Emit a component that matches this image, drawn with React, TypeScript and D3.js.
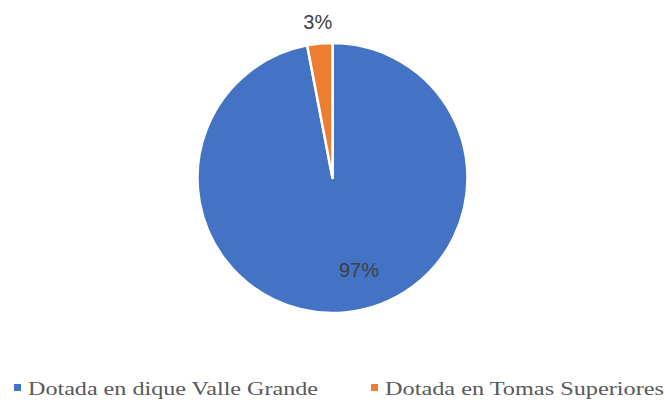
import React from "react";
import * as d3 from "d3";

const categories = ["Dotada en dique Valle Grande", "Dotada en Tomas Superiores"];
const values = [97, 3];
const labels = ["97%", "3%"];
const colors = ["#4472C4", "#ED7D31"];

const W = 665;
const H = 403;
const cx = 332.5;
const cy = 178;
const R = 135;

export default function App() {
  const pie = d3.pie<number>().sort(null).startAngle(0).endAngle(2 * Math.PI);
  const arcs = pie(values);
  const arc = d3.arc<d3.PieArcDatum<number>>().innerRadius(0).outerRadius(R);
  const outerLabelArc = d3.arc<d3.PieArcDatum<number>>().innerRadius(157).outerRadius(157);

  // label positions
  const labelPos = arcs.map((a, i) => {
    if (i === 0) {
      // inside, shifted toward Excel's best-fit placement
      const [x, y] = d3.pointRadial((a.startAngle + a.endAngle) / 2 - 0.185, 96);
      return [x, y];
    }
    return outerLabelArc.centroid(a);
  });

  const legendX = [14, 371];
  const legendTextLen = [290, 279];

  return (
    <svg
      width={W}
      height={H}
      style={{ position: "absolute", left: 0, top: 0, background: "#fff" }}
    >
      <g transform={`translate(${cx},${cy})`}>
        {arcs.map((a, i) => (
          <path
            key={i}
            d={arc(a) || ""}
            fill={colors[i]}
            stroke="#fff"
            strokeWidth={2.5}
            strokeLinejoin="round"
          />
        ))}
        {arcs.map((a, i) => (
          <text
            key={"l" + i}
            x={labelPos[i][0]}
            y={labelPos[i][1]}
            dy="0.36em"
            textAnchor="middle"
            fontFamily="'Liberation Sans', Arial, sans-serif"
            fontSize={20}
            fill="#404040"
          >
            {labels[i]}
          </text>
        ))}
      </g>
      {categories.map((c, i) => (
        <g key={"leg" + i}>
          <rect x={legendX[i]} y={384} width={7} height={7} fill={colors[i]} />
          <text
            x={legendX[i] + 14}
            y={395}
            fontFamily="'Liberation Serif', 'Times New Roman', serif"
            fontSize={19.5}
            fill="#595959"
            textLength={legendTextLen[i]}
            lengthAdjust="spacingAndGlyphs"
          >
            {c}
          </text>
        </g>
      ))}
    </svg>
  );
}
